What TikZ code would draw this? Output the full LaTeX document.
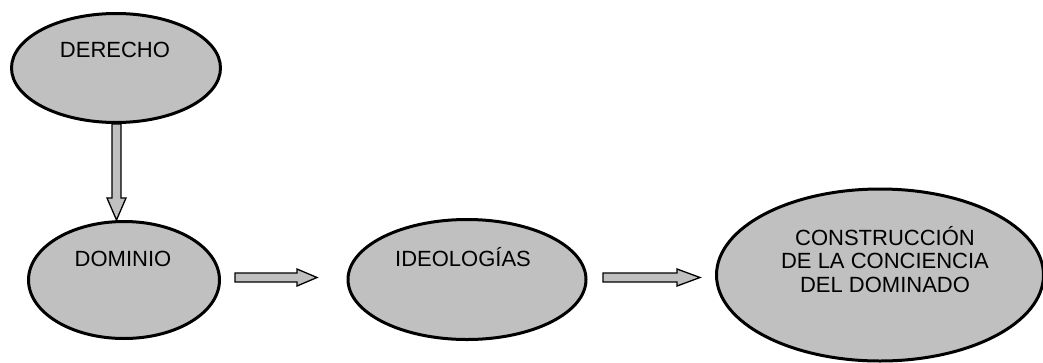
\documentclass[tikz,border=0pt]{standalone}
\usepackage{fontspec}
\setmainfont{Liberation Sans}
\usetikzlibrary{shapes.geometric}
\definecolor{fillgray}{HTML}{C0C0C0}
\tikzset{
  oval/.style={ellipse, draw=black, fill=fillgray, line width=3pt, inner sep=0pt},
  lbl/.style={anchor=base, inner sep=0pt, font=\fontsize{22}{23.5}\selectfont},
  barrow/.style={draw=black, fill=fillgray, line width=1.3pt, line join=miter}
}
\begin{document}
\begin{tikzpicture}[x=1pt,y=-1pt]
\useasboundingbox (0,0) rectangle (1043,362);
\begin{scope}
\clip (0,0) rectangle (1043,362);
% ellipses
\node[oval, minimum width=209pt, minimum height=109pt] (der) at (116,68) {};
\node[oval, minimum width=191pt, minimum height=117pt] (dom) at (124,280) {};
\node[oval, minimum width=238pt, minimum height=120pt] (ide) at (467,279.5) {};
\node[oval, minimum width=327pt, minimum height=172pt] (con) at (880,275) {};
% labels
\node[lbl] (tder) at (115,57) {DERECHO};
\node[lbl] (tdom) at (123,266) {DOMINIO};
\node[lbl] (tide) at (463,266) {IDEOLOGÍAS};
\node[lbl] (tcon1) at (885,245) {CONSTRUCCIÓN};
\node[lbl] (tcon2) at (885,268.5) {DE LA CONCIENCIA};
\node[lbl] (tcon3) at (885,292) {DEL DOMINADO};
% block arrows
\draw[barrow] (112,124) -- (121,124) -- (121,198) -- (126,198) -- (116.5,220)
  -- (107,198) -- (112,198) -- cycle;
\draw[barrow] (235,273) -- (297,273) -- (297,269) -- (317,277.5) -- (297,286)
  -- (297,282) -- (235,282) -- cycle;
\draw[barrow] (603,273) -- (677,273) -- (677,269) -- (700,277.5) -- (677,286)
  -- (677,282) -- (603,282) -- cycle;
\end{scope}
\end{tikzpicture}
\end{document}
